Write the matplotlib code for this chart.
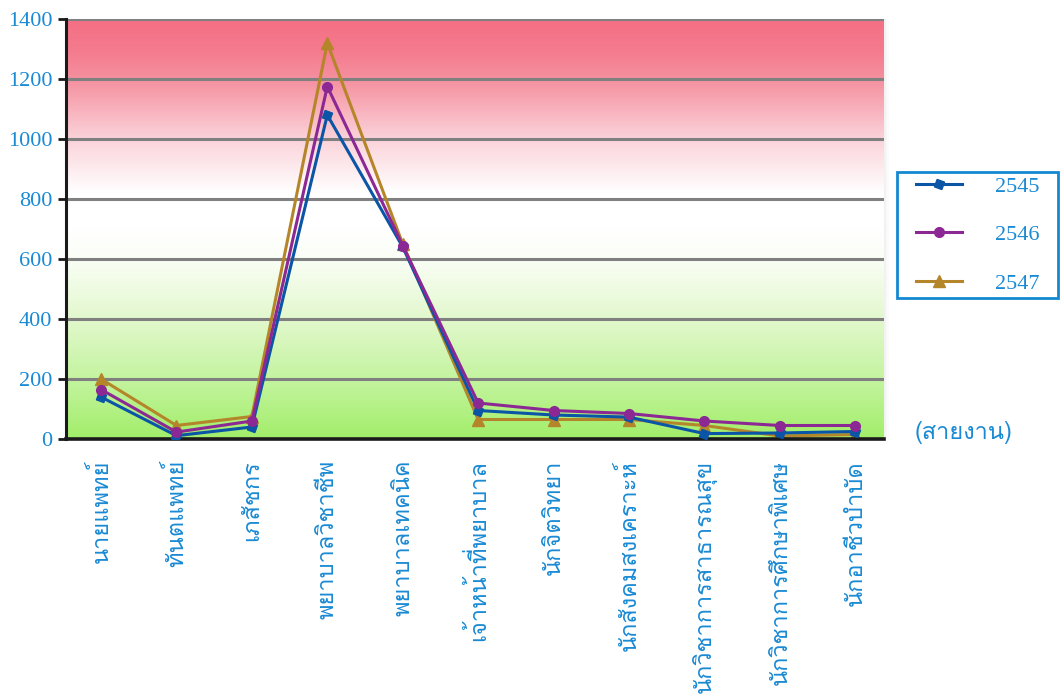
import numpy as np
import matplotlib
matplotlib.use("Agg")
import matplotlib.pyplot as plt
from matplotlib.colors import to_rgb
from matplotlib.patches import Rectangle

# สายงาน (job lines) and staff counts per year
categories = ["นายแพทย์", "ทันตแพทย์", "เภสัชกร", "พยาบาลวิชาชีพ", "พยาบาลเทคนิค",
              "เจ้าหน้าที่พยาบาล", "นักจิตวิทยา", "นักสังคมสงเคราะห์",
              "นักวิชาการสาธารณสุข", "นักวิชาการศึกษาพิเศษ", "นักอาชีวบำบัด"]
years = ["2545", "2546", "2547"]
y2545 = [140, 11, 40, 1080, 640, 95, 80, 73, 18, 20, 25]
y2546 = [165, 23, 60, 1175, 645, 120, 95, 85, 60, 45, 45]
y2547 = [200, 45, 75, 1320, 650, 65, 65, 65, 45, 10, 15]
yticks = [0, 200, 400, 600, 800, 1000, 1200, 1400]

BLUE_TXT = "#1a8ad4"
NUM_FONT = "Liberation Serif"
THAI_FONT = ["Loma", "Noto Sans Thai Looped", "DejaVu Sans"]
W, H = 1060, 694

fig = plt.figure(figsize=(10.6, 6.94), dpi=100)
ax = fig.add_axes([66 / W, 1 - 439 / H, 818 / W, 420 / H])

x = np.arange(len(categories))
xlo, xhi = -0.464, 10.38
ax.set_xlim(xlo, xhi)
ax.set_ylim(0, 1400)

# red -> white -> green background band
stops = [(0, "#a2ee6a"), (200, "#c4f4a0"), (400, "#e2f8cd"), (600, "#fafef6"),
         (700, "#ffffff"), (820, "#ffffff"), (1000, "#fbd3da"), (1200, "#f5909f"),
         (1300, "#f47a8d"), (1400, "#f56f84")]
yy = np.linspace(0, 1400, 400)
sv = [s[0] for s in stops]
cols = np.array([to_rgb(s[1]) for s in stops])
grad = np.stack([np.interp(yy, sv, cols[:, k]) for k in range(3)], axis=1)
ax.imshow(grad[:, None, :], aspect="auto", origin="lower",
          extent=[xlo, xhi, 0, 1400], zorder=0, interpolation="bilinear")

# soft edge on the right of the plot area
for i, a in enumerate([0.10, 0.06, 0.03]):
    ax.axvspan(xhi + i * 0.02, xhi + (i + 1) * 0.02, color="#888888", alpha=a,
               lw=0, zorder=0, clip_on=False)

for t in yticks[1:]:
    ax.axhline(t, color="#808080", lw=2.2, zorder=1)

ax.plot(x, y2545, color="#0b55a6", lw=2.2, marker=(4, 0, 25), ms=8, label=years[0], zorder=3)
ax.plot(x, y2546, color="#8c2894", lw=2.2, marker="o", ms=7, label=years[1], zorder=4)
ax.plot(x, y2547, color="#b5852a", lw=2.2, marker="^", ms=9, label=years[2], zorder=2)

for s in ["top", "right"]:
    ax.spines[s].set_visible(False)
ax.spines["left"].set_linewidth(2.2)
ax.spines["bottom"].set_linewidth(2.6)
ax.spines["left"].set_color("#1a1a1a")
ax.spines["bottom"].set_color("#1a1a1a")

ax.set_yticks(yticks)
ax.set_yticklabels([str(t) for t in yticks], family=NUM_FONT, fontsize=16, color=BLUE_TXT)
ax.tick_params(axis="y", length=6, width=2, direction="out", pad=4, color="#1a1a1a")
ax.set_xticks(x)
ax.set_xticklabels(categories, rotation=90, family=THAI_FONT, fontsize=17,
                   color=BLUE_TXT, va="top", ha="center")
ax.tick_params(axis="x", length=0, pad=15)

fig.text(915 / W, 1 - 432 / H, "(สายงาน)", family=THAI_FONT, fontsize=17,
         color=BLUE_TXT, va="center", ha="left")

# legend box drawn at a fixed spot, entries centred inside it
lx0, ly0, lx1, ly1 = 897, 172, 1058, 298
fig.patches.append(Rectangle((lx0 / W, 1 - ly1 / H), (lx1 - lx0) / W, (ly1 - ly0) / H,
                             transform=fig.transFigure, fill=False,
                             edgecolor="#1488d2", lw=2))
leg = fig.legend(loc="center", bbox_to_anchor=(lx0 / W, 1 - ly1 / H, (lx1 - lx0) / W, (ly1 - ly0) / H),
                 frameon=False, handlelength=2.1, handletextpad=1.45,
                 labelspacing=1.25, borderpad=0, borderaxespad=0,
                 prop={"family": NUM_FONT, "size": 16})
for t in leg.get_texts():
    t.set_color(BLUE_TXT)

fig.savefig("out.png", dpi=100)
